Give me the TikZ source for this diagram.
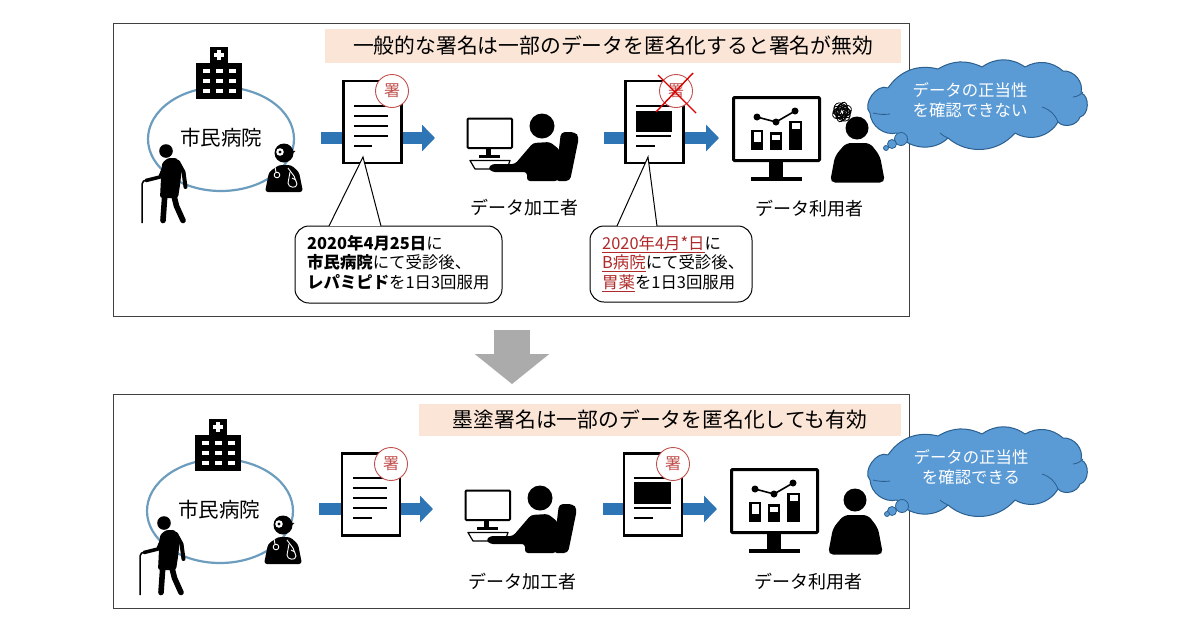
\documentclass[tikz,border=0pt]{standalone}
\usepackage{fontspec}
\setmainfont{Noto Sans CJK JP}
\usetikzlibrary{arrows.meta,shapes.geometric}
\definecolor{peach}{HTML}{FBE5D6}
\definecolor{ringblue}{HTML}{6C9DBE}
\definecolor{flowblue}{HTML}{2E75B6}
\definecolor{cloudblue}{HTML}{5B9BD5}
\definecolor{cloudedge}{HTML}{2A5F8F}
\definecolor{stampred}{HTML}{C0504D}
\definecolor{markred}{HTML}{B02A2A}
\newcommand{\redmark}[1]{\textcolor{markred}{\underline{#1}}}
\tikzset{
  PanelStyle/.style = {draw=black!75, line width=1pt, fill=white, inner sep=0pt},
  TitleStyle/.style = {fill=peach, inner sep=0pt, font=\fontsize{20.8}{25}\selectfont},
  LabelStyle/.style = {font=\fontsize{18}{22}\selectfont, inner sep=0pt},
  RingStyle/.style = {draw=ringblue, line width=2.2pt, ellipse},
  DocStyle/.style = {draw=black, line width=2.4pt, fill=white, minimum width=58pt, minimum height=82pt, inner sep=0pt},
  StampStyle/.style = {circle, draw=stampred, line width=0.9pt, fill=white, minimum size=33pt, inner sep=0pt, text=stampred, font=\fontsize{16}{16}\selectfont},
  FlowStyle/.style = {draw=flowblue, line width=12.5pt, -{Triangle[length=13pt,width=26pt]}},
  CalloutStyle/.style = {draw=black, line width=1pt, fill=white, rounded corners=14pt, inner sep=0pt},
  NoteStyle/.style = {align=left, inner sep=0pt, anchor=north west, font=\fontsize{16.4}{19.6}\selectfont},
  CloudText/.style = {align=center, inner sep=0pt, text=white, font=\fontsize{16.4}{20}\selectfont},
  BubbleStyle/.style = {circle, draw=cloudedge, fill=cloudblue, line width=0.8pt, inner sep=0pt},
  DocLine/.style = {line width=2pt},
  hospital/.pic = {
    \fill (196,63) rectangle (242,99);
    \fill (210,47) rectangle (228,63);
    \fill[white] (217.2,50) rectangle (220.8,60);
    \fill[white] (214,53.2) rectangle (224,56.8);
    \foreach \wy in {71,81,91}
      \foreach \wx in {206,219,232}
        \fill[white] (\wx-3.5,\wy-1.8) rectangle (\wx+3.5,\wy+1.8);
  },
  patient/.pic = {
    \fill (166,151) circle (6.8);
    \fill[rounded corners=2.5pt] (162,163) -- (168,158) -- (177,158) -- (182,168) -- (180,185) -- (178,198) -- (160,198) -- (161,178) -- cycle;
    \draw[line width=4pt, line cap=round, line join=round] (178,162) -- (183.5,172) -- (185.5,187);
    \draw[line width=3.6pt, line cap=round, line join=round] (165,165) -- (160,177) -- (146,180.5);
    \draw[line width=5.6pt, line cap=round, line join=round] (165,192) -- (163,220.5);
    \draw[line width=5.6pt, line cap=round, line join=round] (173,192) -- (176.5,206) -- (183,220.5);
    \draw[line width=1.5pt] (142,223) -- (142,184) to[out=90,in=180] (147,180);
  },
  doctor/.pic = {
    \fill (284,153) circle (9.5);
    \fill[rounded corners=3pt] (265,192) -- (269,172) -- (279,165) -- (291,165) -- (299,172) -- (303,192) -- cycle;
    \fill (286,150) -- (295.5,151) -- (292,154) -- (286,155) -- cycle;
    \fill[white] (280,152) circle (3.8);
    \fill (280,152) circle (1.6);
    \draw[white, line width=0.9pt] (277,175) circle (2.8);
    \draw[white, line width=0.9pt] (275,167) -- (276,172);
    \draw[white, line width=0.9pt] (288,168) -- (294,176) -- (297,184) to[out=90,in=0] (292,178);
    \draw[white, line width=0.9pt] (290,172) -- (288,183) to[out=-90,in=-90,looseness=1.4] (297,184);
  },
  worker/.pic = {
    \draw[line width=2pt, fill=white, rounded corners=1pt] (467.5,118.5) rectangle (512,148);
    \fill (486,149) rectangle (491,155);
    \fill (479,155) rectangle (500,157.5);
    \draw[line width=1.2pt, fill=white, line join=round] (470,160.5) -- (510,160.5) -- (507,169) -- (475,169) -- cycle;
    \fill (542,126) circle (12.5);
    \fill[rounded corners=4pt] (561,132) -- (575,132) -- (579,137) -- (570,181) -- (555,181) -- cycle;
    \fill[rounded corners=3pt] (527,181) -- (527,172) -- (492,172) -- (488,168) -- (492,164) -- (515,164) -- (533,143) -- (550,142) -- (560,150) -- (558,181) -- cycle;
  },
  viewer/.pic = {
    \draw[line width=3pt, rounded corners=1pt] (733.5,97.5) rectangle (819.5,160.5);
    \fill (769,162) rectangle (783,177);
    \fill (751,177) rectangle (802,181);
    \draw[line width=1.6pt] (757,117) -- (776,122) -- (795,111);
    \foreach \dx/\dy in {757/117,776/122,795/111}
      \fill (\dx,\dy) circle (3.5);
    \fill (751,130) rectangle (763,150);
    \fill[white] (753.5,132) rectangle (760.5,142);
    \fill (770,132) rectangle (782,150);
    \fill[white] (772,134.5) rectangle (780,140);
    \fill (789,121) rectangle (802,150);
    \fill[white] (791.5,123) rectangle (799.5,128.5);
    \fill (857,128) circle (11.5);
    \fill[rounded corners=5pt] (830,182.5) -- (835,156) -- (846,143) -- (870,143) -- (880,156) -- (885,182.5) -- cycle;
  },
  scribble/.pic = {
    \foreach \sa/\sb/\sc in {0/9/4,25/10/6,50/7/3,75/10/5,100/8/3,125/10/7,150/9/4,170/6/3}
      \draw[line width=0.8pt, rotate around={\sa:(842,112)}] (842,112) ellipse ({\sb} and {\sc});
    \foreach \sa/\sb/\sc in {10/5/2,70/6/2,130/5/3}
      \draw[line width=0.8pt, rotate around={\sa:(842,112)}] (843,108) ellipse ({\sb} and {\sc}) (840,116) ellipse ({\sb} and {\sc});
  },
  thought/.pic = {
    \draw[draw=cloudedge, fill=cloudblue, line width=1pt, line join=round]
      (888,88) to[bend left=35] (938,69) to[bend left=28] (982,67) to[bend left=35] (1025,67)
      to[bend left=35] (1063,71) to[bend left=55] (1081,93) to[bend left=75] (1080,117)
      to[bend left=60] (1058,122) to[bend left=45] (1015,133) to[bend left=45] (948,138)
      to[bend left=50] (897,133) to[bend left=50] (870,113) to[bend left=80] (888,88);
    \draw[draw=cloudedge, line width=0.8pt] (1073,97) to[bend right=20] (1083,92);
    \draw[draw=cloudedge, line width=0.8pt] (1042,107) to[bend left=25] (1058,122);
    \draw[draw=cloudedge, line width=0.8pt] (873,113) to[bend right=10] (890,114);
    \draw[draw=cloudedge, line width=0.8pt] (940,133) to[bend right=10] (948,138);
  },
}
\begin{document}
\begin{tikzpicture}[x=1pt,y=-1pt]
  \useasboundingbox (0,0) rectangle (1200,630);
  \fill[white] (0,0) rectangle (1200,630);

  % upper panel
  \node[PanelStyle, minimum width=796pt, minimum height=293pt] (panelA) at (511,169.5) {};
  \node[TitleStyle, minimum width=576pt, minimum height=34pt] (titleA) at (613,46) {一般的な署名は一部のデータを匿名化すると署名が無効};
  \node[RingStyle, minimum width=146pt, minimum height=104pt] (ringA) at (221,139) {};
  \pic at (0,0) {hospital};
  \pic at (0,0) {patient};
  \pic at (0,0) {doctor};
  \node[LabelStyle, font=\fontsize{20.5}{24}\selectfont] (cityA) at (221,138) {市民病院};

  \coordinate (flowA1s) at (321,138);
  \coordinate (flowA1e) at (435,138);
  \coordinate (flowA2s) at (604,138);
  \coordinate (flowA2e) at (719,138);
  \draw[FlowStyle] (flowA1s) -- (flowA1e);
  \draw[FlowStyle] (flowA2s) -- (flowA2e);

  \node[DocStyle] (docA1) at (372.5,122) {};
  \foreach \ly/\lx in {106/388,116/388,126/388,136/388,146/372}
    \draw[DocLine] (354,\ly) -- (\lx,\ly);
  \node[StampStyle] (stampA1) at (392,91) {署};

  \node[DocStyle] (docA2) at (654.5,122) {};
  \draw[DocLine] (636,106) -- (671,106);
  \fill (636,111) rectangle (672,132);
  \draw[DocLine] (636,136) -- (671,136);
  \draw[DocLine] (636,146) -- (655,146);
  \node[StampStyle] (stampA2) at (676,91) {署};
  \coordinate (crossA1) at (658,75);
  \coordinate (crossA2) at (696,113);
  \coordinate (crossA3) at (693,73);
  \coordinate (crossA4) at (656,112);
  \draw[red!85!black, line width=1.4pt] (crossA1) -- (crossA2);
  \draw[red!85!black, line width=1.4pt] (crossA3) -- (crossA4);

  \pic at (0,0) {worker};
  \pic at (0,0) {viewer};
  \pic at (0,0) {scribble};
  \node[LabelStyle] (makerA) at (524,208) {データ加工者};
  \node[LabelStyle] (userA) at (809,209) {データ利用者};

  % callouts
  \node[CalloutStyle, minimum width=207pt, minimum height=77pt] (noteA1) at (398.5,264.5) {};
  \coordinate (tipA1) at (363,157);
  \coordinate (tipA1l) at (329,226);
  \coordinate (tipA1r) at (381,226);
  \fill[white] (tipA1l) -- (tipA1) -- (tipA1r) -- cycle;
  \draw[line width=1pt] (tipA1l) -- (tipA1) -- (tipA1r);
  \node[NoteStyle] (textA1) at (307,235) {\textbf{2020年4月25日}に\\\textbf{市民病院}にて受診後、\\\textbf{レパミピド}を1日3回服用};

  \node[CalloutStyle, minimum width=162pt, minimum height=76pt] (noteA2) at (671,264) {};
  \coordinate (tipA2) at (648,157);
  \coordinate (tipA2l) at (617,226);
  \coordinate (tipA2r) at (657,226);
  \fill[white] (tipA2l) -- (tipA2) -- (tipA2r) -- cycle;
  \draw[line width=1pt] (tipA2l) -- (tipA2) -- (tipA2r);
  \node[NoteStyle] (textA2) at (602,235) {\redmark{2020年4月*日}に\\\redmark{B病院}にて受診後、\\\redmark{胃薬}を1日3回服用};

  % thought cloud
  \pic at (0,0) {thought};
  \node[CloudText] (cloudtextA) at (970,100) {データの正当性\\を確認できない};
  \node[BubbleStyle, minimum size=13pt] (bubbleA1) at (901,139) {};
  \node[BubbleStyle, minimum size=9pt] (bubbleA2) at (892,144) {};
  \node[BubbleStyle, minimum size=5pt] (bubbleA3) at (886,148) {};

  % down arrow
  \coordinate (downs) at (512,330);
  \coordinate (downe) at (512,384);
  \draw[draw=black!33, line width=36pt, -{Triangle[length=30pt,width=73pt]}] (downs) -- (downe);

  % lower panel
  \node[PanelStyle, minimum width=796pt, minimum height=214pt] (panelB) at (511,501) {};
  \node[TitleStyle, minimum width=482pt, minimum height=32pt] (titleB) at (660,420) {墨塗署名は一部のデータを匿名化しても有効};
  \node[RingStyle, minimum width=146pt, minimum height=104pt] (ringB) at (220,511) {};
  \pic at (-1,372) {hospital};
  \pic at (-2,372) {patient};
  \pic at (-1,372) {doctor};
  \node[LabelStyle, font=\fontsize{20.5}{24}\selectfont] (cityB) at (219,510) {市民病院};

  \coordinate (flowB1s) at (319,509);
  \coordinate (flowB1e) at (433,509);
  \coordinate (flowB2s) at (603,509);
  \coordinate (flowB2e) at (717,509);
  \draw[FlowStyle] (flowB1s) -- (flowB1e);
  \draw[FlowStyle] (flowB2s) -- (flowB2e);

  \node[DocStyle] (docB1) at (371,494.5) {};
  \foreach \ly/\lx in {478/387,488/387,498/387,508/387,518/372}
    \draw[DocLine] (353,\ly) -- (\lx,\ly);
  \node[StampStyle] (stampB1) at (391,464) {署};

  \node[DocStyle] (docB2) at (653,494.5) {};
  \draw[DocLine] (634,478) -- (671,478);
  \fill (634,482) rectangle (671,504);
  \draw[DocLine] (634,508) -- (671,508);
  \draw[DocLine] (634,518) -- (653,518);
  \node[StampStyle] (stampB2) at (673,464) {署};

  \pic at (-2,372) {worker};
  \pic at (-2,372) {viewer};
  \node[LabelStyle] (makerB) at (522,582) {データ加工者};
  \node[LabelStyle] (userB) at (808,582) {データ利用者};

  \pic at (0,367) {thought};
  \node[CloudText] (cloudtextB) at (971,467) {データの正当性\\を確認できる};
  \node[BubbleStyle, minimum size=13pt] (bubbleB1) at (902,506) {};
  \node[BubbleStyle, minimum size=9pt] (bubbleB2) at (892,511) {};
  \node[BubbleStyle, minimum size=5pt] (bubbleB3) at (887,514) {};
\end{tikzpicture}
\end{document}
